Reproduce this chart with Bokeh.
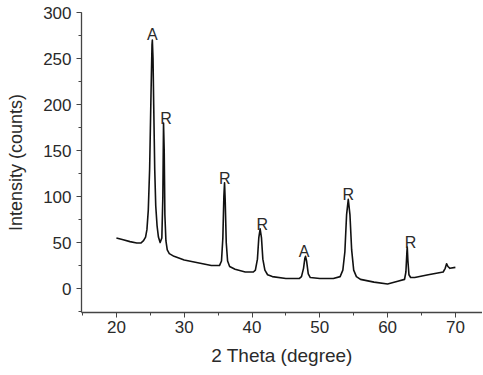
from bokeh.plotting import figure
from bokeh.models import ColumnDataSource, SingleIntervalTicker, Range1d
from bokeh.embed import file_html
from bokeh.resources import INLINE
from bokeh.core.properties import value

# XRD pattern
two_theta = [20, 21, 22, 23, 23.6, 24.0, 24.3, 24.5, 24.7, 24.9, 25.1, 25.25, 25.3, 25.4,
             25.5, 25.65, 25.8, 26.0, 26.2, 26.45, 26.7, 26.85, 26.95, 27.05, 27.15, 27.3,
             27.5, 27.8, 28.5, 30, 32, 34, 35.2, 35.5, 35.7, 35.85, 35.95, 36.05, 36.2,
             36.4, 36.7, 37.5, 39, 40.2, 40.5, 40.8, 41.0, 41.2, 41.4, 41.6, 41.9, 42.3,
             43, 45, 47.0, 47.3, 47.6, 47.8, 47.9, 48.05, 48.3, 48.6, 50, 52, 53.0, 53.4,
             53.7, 53.95, 54.2, 54.45, 54.7, 55.0, 55.4, 56, 58, 60, 61.5, 62.5, 62.7,
             62.85, 62.9, 63.0, 63.15, 63.4, 64, 66, 68.2, 68.5, 68.7, 68.9, 69.2, 70]
intensity = [55, 53, 51, 49.5, 49.5, 52, 56, 64, 85, 130, 210, 265, 270, 250,
             200, 130, 90, 68, 56, 50, 55, 100, 180, 150, 80, 52,
             42, 38, 35, 31, 28, 25, 25, 30, 55, 100, 115, 95, 50,
             30, 24, 21, 18, 18, 20, 32, 55, 65, 55, 32, 20, 15,
             13, 11, 11, 13, 22, 33, 35, 30, 16, 12, 11, 11, 13, 20,
             40, 80, 97, 80, 42, 20, 13, 10, 7, 5, 8, 10, 18,
             40, 45, 30, 15, 12, 12, 15, 18, 22, 27, 24, 22, 23]

label_x = [25.3, 27.3, 36.0, 41.5, 47.7, 54.2, 63.4]
label_y = [276, 185, 120, 70, 40, 102, 50]
label_text = ["A", "R", "R", "R", "A", "R", "R"]

FONT = "Liberation Sans"
TXT = "#2a2a2a"
AX = "#444444"

p = figure(frame_width=401, frame_height=300, output_backend="svg", toolbar_location=None,
           x_range=Range1d(14.85, 74.0), y_range=Range1d(-26, 300),
           min_border_left=81, min_border_right=0, min_border_top=12, min_border_bottom=58)
p.outline_line_color = None
p.xgrid.visible = False
p.ygrid.visible = False
p.background_fill_color = "white"
p.border_fill_color = "white"

p.line(two_theta, intensity, line_color="#111111", line_width=1.6, line_join="round")

src = ColumnDataSource(dict(x=label_x, y=label_y, t=label_text))
p.text(x="x", y="y", text="t", source=src, text_align="center", text_baseline="alphabetic",
       text_font=value(FONT), text_font_size="16px", text_color=TXT)

p.xaxis.ticker = SingleIntervalTicker(interval=10, num_minor_ticks=2)
p.yaxis.ticker = SingleIntervalTicker(interval=50, num_minor_ticks=2)
p.xaxis.axis_label = "2 Theta (degree)"
p.yaxis.axis_label = "Intensity (counts)"
for ax in (p.xaxis, p.yaxis):
    ax.axis_line_color = AX
    ax.axis_line_width = 1.3
    ax.major_tick_line_color = AX
    ax.minor_tick_line_color = AX
    ax.major_tick_out = 5
    ax.major_tick_in = 0
    ax.minor_tick_out = 3
    ax.minor_tick_in = 0
    ax.major_label_text_font = FONT
    ax.major_label_text_font_size = "17px"
    ax.major_label_text_color = TXT
    ax.axis_label_text_font = FONT
    ax.axis_label_text_font_style = "normal"
    ax.axis_label_text_color = TXT
p.xaxis.axis_label_text_font_size = "19px"
p.yaxis.axis_label_text_font_size = "18px"
p.xaxis.major_label_standoff = 3
p.yaxis.major_label_standoff = 5
p.xaxis.axis_label_standoff = 9
p.yaxis.axis_label_standoff = 14

open("out.html", "w").write(file_html(p, INLINE))
